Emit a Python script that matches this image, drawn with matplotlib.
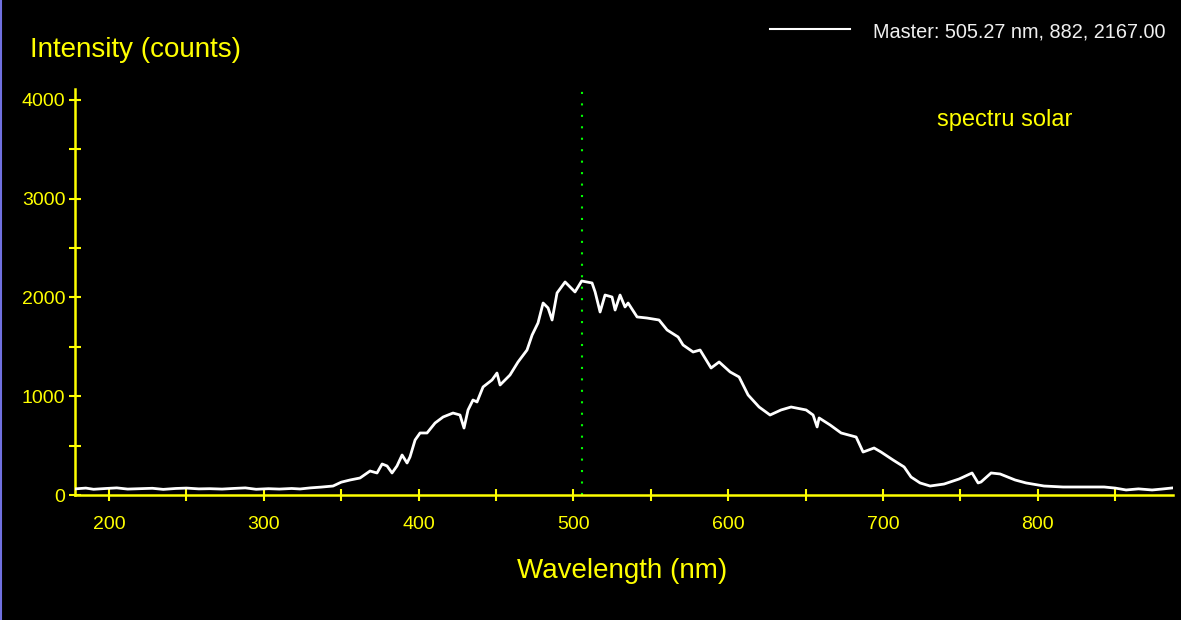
import matplotlib
matplotlib.use("Agg")
import matplotlib.pyplot as plt
from matplotlib.lines import Line2D
from matplotlib.ticker import MultipleLocator

plt.rcParams["font.family"] = ["Liberation Sans", "DejaVu Sans"]

# spectrum (nm, counts)
wavelength = [
    178, 185, 190, 198, 205, 212, 220, 228, 235, 243, 250, 258, 265, 273,
    280, 288, 295, 303, 310, 318, 323.4, 330, 337, 344.7, 350, 355.7, 362.1,
    368.6, 373.1, 376.4, 379.6, 382.8, 386.0, 389.3, 392.5, 394.4, 397.7,
    400.9, 405.4, 410.6, 415.8, 422.2, 426.7, 429.3, 431.9, 435.1, 437.7,
    441.6, 447.4, 450.6, 452.6, 459.0, 464.2, 470.0, 473.3, 477.1, 480.4,
    483.6, 486.2, 489.4, 494.6, 501.0, 505.3, 512.0, 514.0, 517.2, 520.4,
    524.9, 526.9, 530.1, 533.3, 535.3, 541.1, 547.5, 555.3, 560.5, 567.6,
    570.8, 577.3, 581.8, 588.9, 594.1, 601.2, 607.0, 612.8, 619.9, 627.0,
    634.1, 640.6, 650.3, 654.8, 657.4, 658.7, 665.8, 672.9, 682.6, 687.1,
    694.2, 698.7, 706.5, 713.6, 718.1, 723.9, 730.4, 739.4, 749.1, 757.5,
    761.4, 763.3, 769.8, 775.6, 785.3, 792.4, 804.0, 816.3, 827.9, 842.8,
    850, 857.0, 865, 873.8, 880, 886.7,
]
intensity = [
    62, 70, 58, 66, 72, 60, 64, 68, 57, 66, 70, 62, 64, 60,
    66, 72, 58, 64, 60, 66, 61, 72, 80, 91, 130, 152, 172,
    243, 223, 314, 294, 223, 294, 405, 324, 385, 557,
    628, 628, 729, 790, 830, 810, 678, 861, 962, 942,
    1094, 1165, 1235, 1114, 1215, 1347, 1468, 1620, 1742, 1944,
    1894, 1772, 2046, 2157, 2056, 2167, 2147, 2056, 1853, 2025,
    2005, 1873, 2025, 1904, 1944, 1803, 1792, 1772, 1671, 1600,
    1519, 1448, 1468, 1286, 1347, 1246, 1195, 1013, 891, 810,
    861, 891, 861, 810, 689, 780, 709, 628, 587, 435,
    476, 435, 354, 284, 182, 122, 91, 111, 162, 223,
    122, 132, 223, 213, 152, 122, 91, 81, 81, 81,
    70, 51, 62, 51, 60, 71,
]

marker_nm = 505.27
legend_text = "Master: 505.27 nm, 882, 2167.00"

yellow = "#ffff00"

fig = plt.figure(figsize=(11.81, 6.2), dpi=100, facecolor="black")
ax = fig.add_axes([75 / 1181, 125 / 620, 1098 / 1181, 406 / 620])
ax.set_facecolor("black")

ax.plot(wavelength, intensity, color="white", lw=2.0, zorder=3)
ax.axvline(marker_nm, color="#00ff00", lw=1.5, linestyle=(0, (1, 4.5)), zorder=2)

ax.set_xlim(178, 887.3)
ax.set_ylim(0, 4111)

for side in ("top", "right"):
    ax.spines[side].set_visible(False)
for side in ("left", "bottom"):
    ax.spines[side].set_color(yellow)
    ax.spines[side].set_linewidth(1.8)

ax.xaxis.set_major_locator(MultipleLocator(100))
ax.xaxis.set_minor_locator(MultipleLocator(50))
ax.yaxis.set_major_locator(MultipleLocator(1000))
ax.yaxis.set_minor_locator(MultipleLocator(500))
ax.tick_params(which="both", direction="inout", length=8, width=1.5,
               color=yellow, labelcolor=yellow, labelsize=14)
ax.tick_params(axis="x", which="major", pad=11)
ax.tick_params(axis="y", which="major", pad=3)

fig.text(30 / 1181, 1 - 57 / 620, "Intensity (counts)", color=yellow,
         fontsize=20, va="baseline", ha="left")
fig.text(622 / 1181, 1 - 578 / 620, "Wavelength (nm)", color=yellow,
         fontsize=20, va="baseline", ha="center")
fig.text(937 / 1181, 1 - 126 / 620, "spectru solar", color=yellow,
         fontsize=17, va="baseline", ha="left")

# legend entry drawn in figure coords, top right
fig.add_artist(Line2D([770 / 1181, 850 / 1181], [1 - 28.5 / 620, 1 - 28.5 / 620],
                      transform=fig.transFigure, color="white", lw=1.5))
fig.text(873 / 1181, 1 - 37 / 620, legend_text, color="#f0f0f0",
         fontsize=14.3, va="baseline", ha="left")

# thin blue border on the left edge
fig.add_artist(Line2D([0.8 / 1181, 0.8 / 1181], [0, 1], transform=fig.transFigure,
                      color="#7070e0", lw=1.5))

fig.savefig("out.png", dpi=100, facecolor="black")
